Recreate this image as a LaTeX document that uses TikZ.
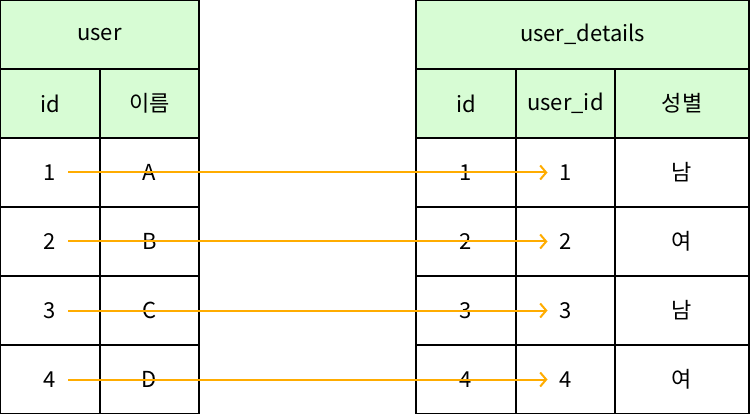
\documentclass[tikz,border=0pt]{standalone}
\usepackage{fontspec}
\setmainfont{Noto Sans CJK KR}
\usepackage{tikz}
\usetikzlibrary{arrows.meta}
\definecolor{headgreen}{RGB}{215,252,212}
\definecolor{linkorange}{RGB}{255,172,0}
\tikzstyle{cell} = [draw=black, line width=1.5pt, minimum height=69pt, inner sep=0pt, font=\fontsize{22}{26}\selectfont]
\tikzstyle{head} = [cell, fill=headgreen]
\tikzstyle{link} = [line width=2pt, linkorange, -{Straight Barb[length=6pt,width=14pt]}]

\begin{document}
\begin{tikzpicture}[x=1pt,y=-1pt]
        \useasboundingbox (0,0) rectangle (750,414);
        % user
        \node[head, minimum width=199pt] (ltitle) at (99.5,34.5) {user};
        \node[head, minimum width=100pt] (lhid) at (50,103.5) {id};
        \node[head, minimum width=99pt] (lhname) at (149.5,103.5) {이름};
        % user_details
        \node[head, minimum width=333pt] (rtitle) at (582.5,34.5) {user\_details};
        \node[head, minimum width=100pt] (rhid) at (466,103.5) {id};
        \node[head, minimum width=99pt] (rhuid) at (565.5,103.5) {user\_id};
        \node[head, minimum width=134pt] (rhsex) at (682,103.5) {성별};
        \foreach \i/\n/\s in {1/A/남,2/B/여,3/C/남,4/D/여}{
            \node[cell, minimum width=100pt] (lid\i) at (50,103.5+69*\i) {\i};
            \node[cell, minimum width=99pt] (lname\i) at (149.5,103.5+69*\i) {\n};
            \node[cell, minimum width=100pt] (rid\i) at (466,103.5+69*\i) {\i};
            \node[cell, minimum width=99pt] (ruid\i) at (565.5,103.5+69*\i) {\i};
            \node[cell, minimum width=134pt] (rsex\i) at (682,103.5+69*\i) {\s};
        }
        \foreach \i in {1,2,3,4}{
            \draw[link] ([xshift=18pt]lid\i.center) -- ([xshift=-18pt]ruid\i.center);
        }
    \end{tikzpicture}
\end{document}
